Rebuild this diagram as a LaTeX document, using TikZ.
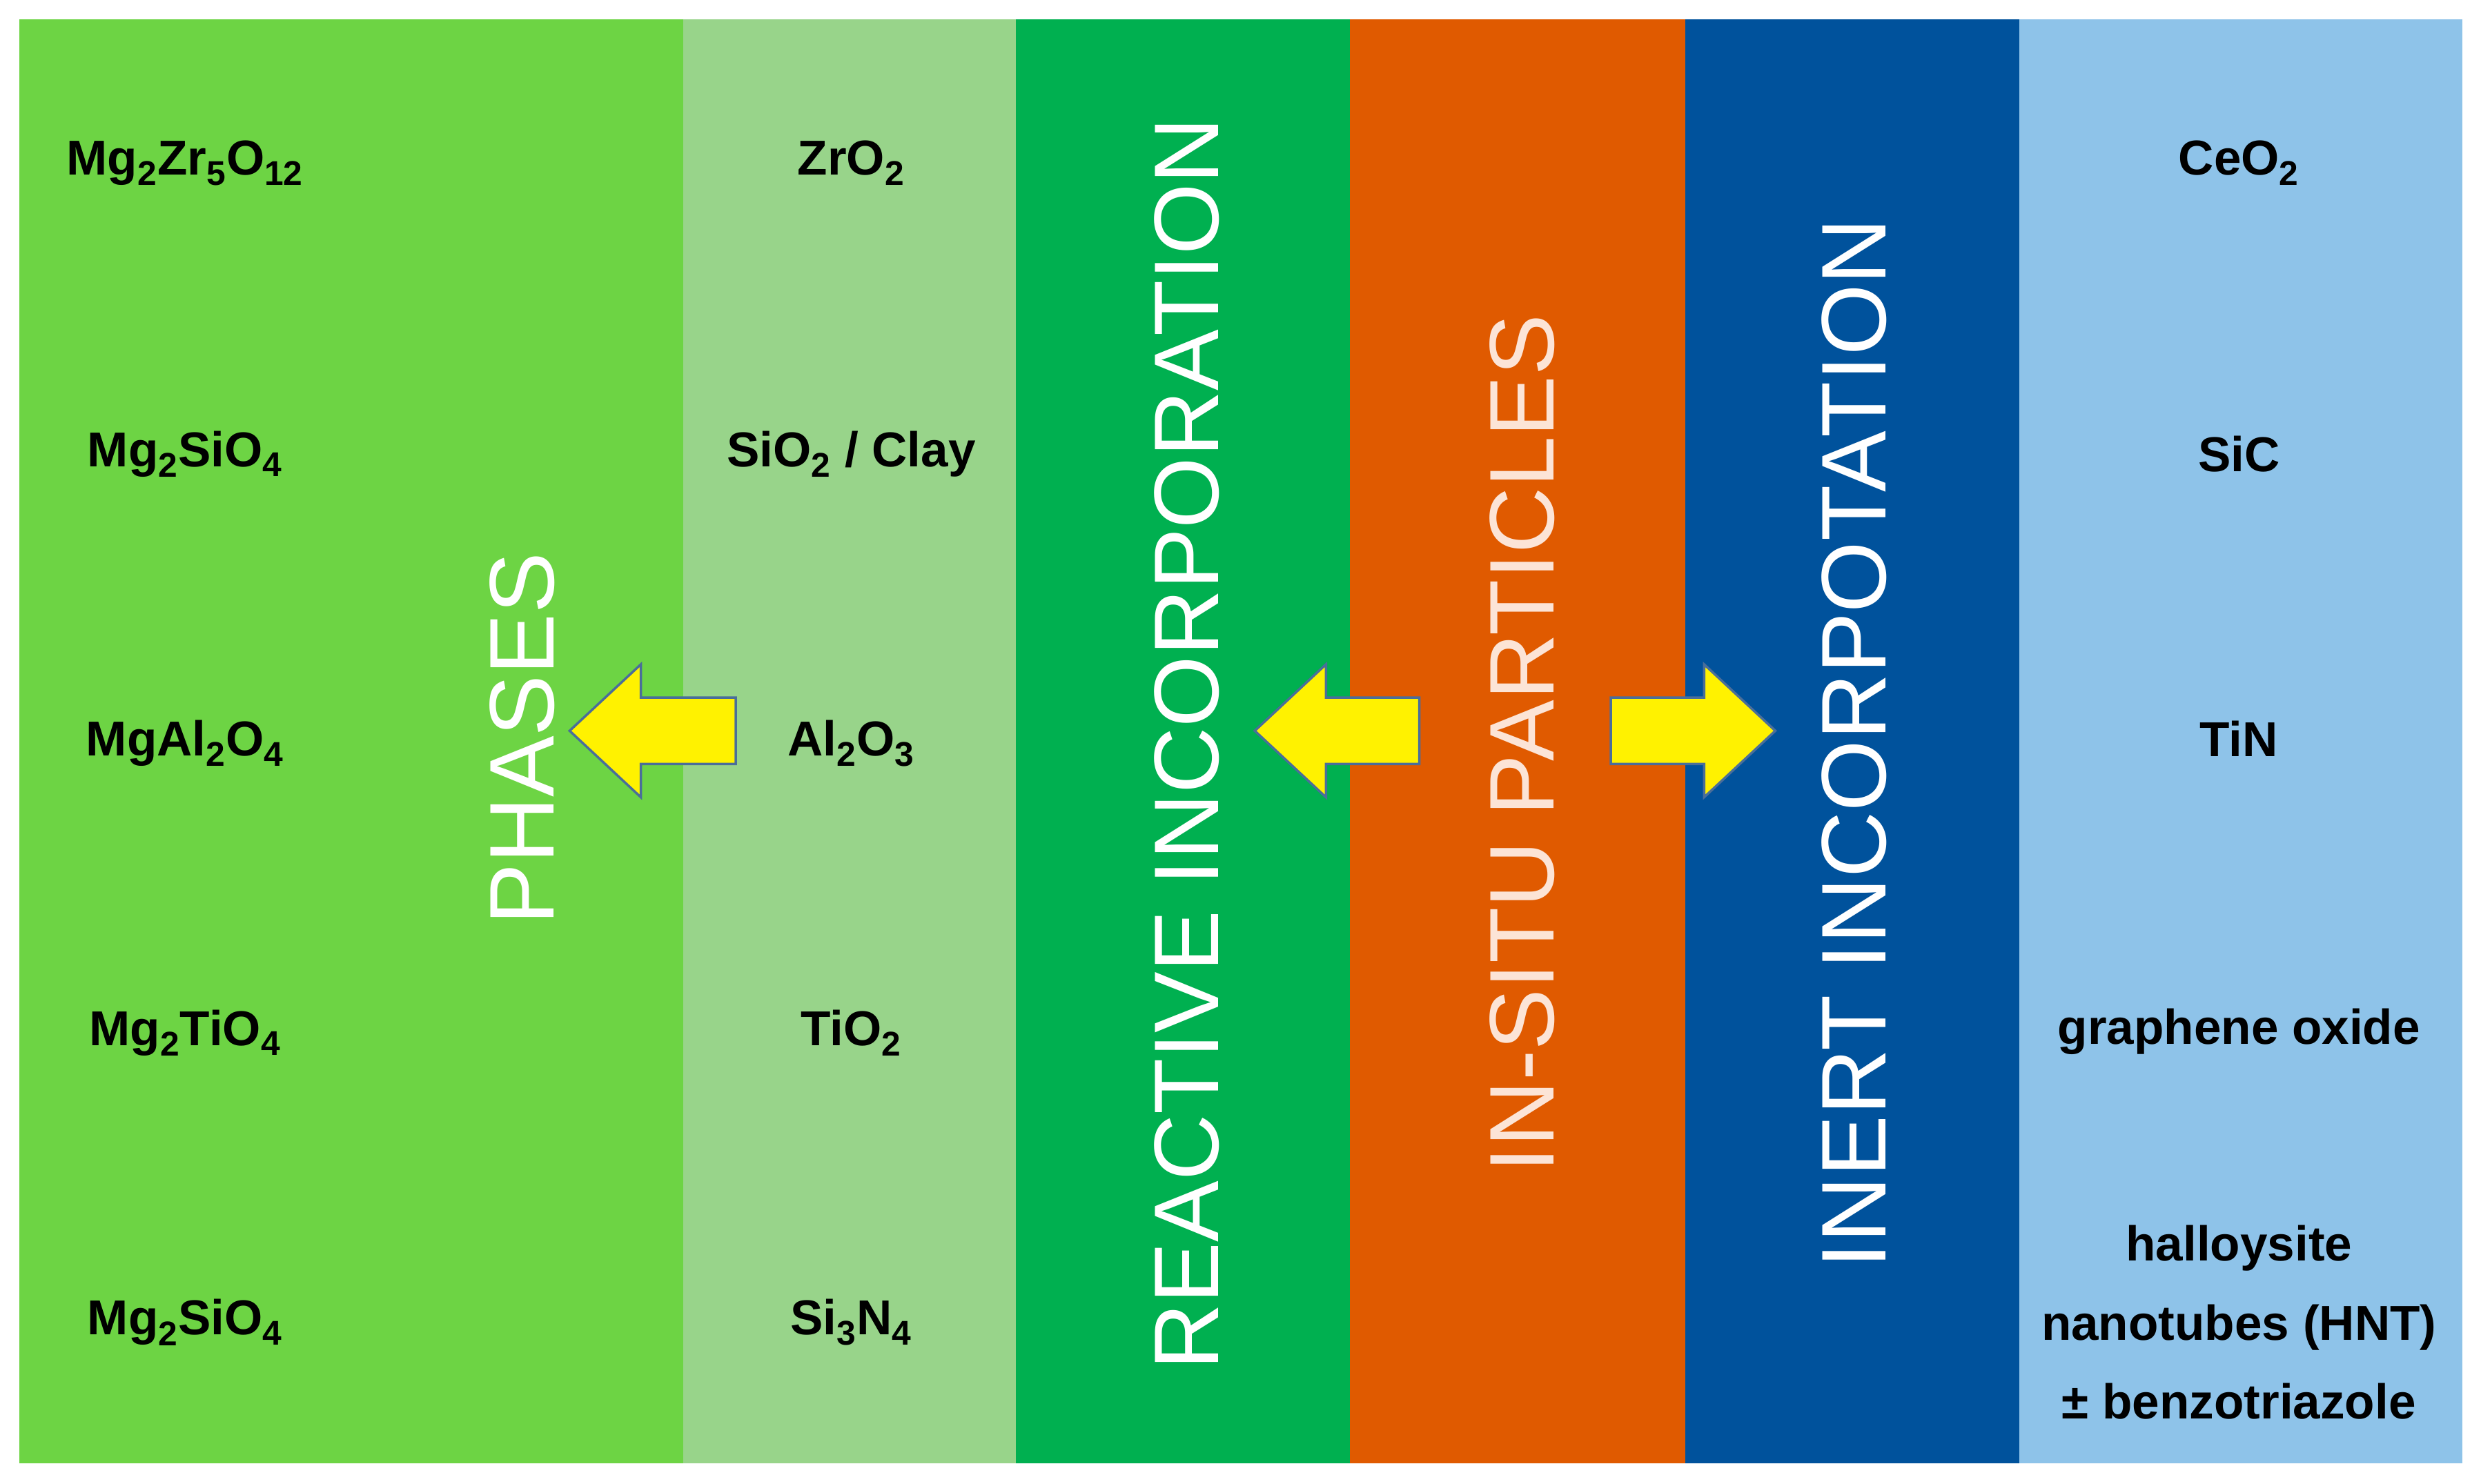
\documentclass[tikz,border=0pt]{standalone}
\usepackage{fontspec}
\setmainfont{Liberation Sans}
\newcommand{\sbs}[1]{\textsubscript{#1}}
\definecolor{cA}{HTML}{6DD444}
\definecolor{cB}{HTML}{98D48A}
\definecolor{cC}{HTML}{00B050}
\definecolor{cD}{HTML}{E05A00}
\definecolor{cE}{HTML}{00529C}
\definecolor{cF}{HTML}{8EC3E9}
\definecolor{peach}{HTML}{FCE4D6}
\definecolor{arrline}{HTML}{4A6E9A}
\begin{document}
\begin{tikzpicture}[x=1pt,y=-1pt,
  lab/.style={font=\fontsize{31}{50}\selectfont\bfseries,text=black,align=center,inner sep=0},
  vlab/.style={font=\fontsize{58}{60}\selectfont,rotate=90,inner sep=0},
  arr/.style={fill=yellow,draw=arrline,line width=1.5pt,line join=miter}]
\useasboundingbox (0,0) rectangle (1568,938);
\fill[white] (0,0) rectangle (1568,938);
\fill[cA] (12,12) rectangle (432,925);
\fill[cB] (432,12) rectangle (642,925);
\fill[cC] (642,12) rectangle (853,925);
\fill[cD] (853,12) rectangle (1065,925);
\fill[cE] (1065,12) rectangle (1276,925);
\fill[cF] (1276,12) rectangle (1556,925);
% left column
\node[lab] (a1) at (117,103) {Mg\sbs{2}Zr\sbs{5}O\sbs{12}};
\node[lab] (a2) at (117,287) {Mg\sbs{2}SiO\sbs{4}};
\node[lab] (a3) at (117,470) {MgAl\sbs{2}O\sbs{4}};
\node[lab] (a4) at (117,653) {Mg\sbs{2}TiO\sbs{4}};
\node[lab] (a5) at (117,836) {Mg\sbs{2}SiO\sbs{4}};
% second column
\node[lab] (b1) at (538,103) {ZrO\sbs{2}};
\node[lab] (b2) at (538,287) {SiO\sbs{2} / Clay};
\node[lab] (b3) at (538,470) {Al\sbs{2}O\sbs{3}};
\node[lab] (b4) at (538,653) {TiO\sbs{2}};
\node[lab] (b5) at (538,836) {Si\sbs{3}N\sbs{4}};
% right column
\node[lab] (f1) at (1415,103) {CeO\sbs{2}};
\node[lab] (f2) at (1415,287) {SiC};
\node[lab] (f3) at (1415,467) {TiN};
\node[lab] (f4) at (1415,652) {graphene oxide};
\node[lab] (f5) at (1415,836) {halloysite\\nanotubes (HNT)\\\textpm{} benzotriazole};
% vertical labels
\node[vlab,text=white] (v1) at (330,467) {PHASES};
\node[vlab,text=white] (v2) at (750,470) {REACTIVE INCORPORATION};
\node[vlab,text=peach] (v3) at (962,470) {IN-SITU PARTICLES};
\node[vlab,text=white] (v4) at (1172,470) {INERT INCORPOTATION};
% arrows
\draw[arr] (465,441) -- (405,441) -- (405,420) -- (360,462) -- (405,504) -- (405,483) -- (465,483) -- cycle;
\draw[arr] (897,441) -- (838,441) -- (838,420) -- (793,462) -- (838,504) -- (838,483) -- (897,483) -- cycle;
\draw[arr] (1018,441) -- (1077,441) -- (1077,420) -- (1122,462) -- (1077,504) -- (1077,483) -- (1018,483) -- cycle;
\end{tikzpicture}
\end{document}
